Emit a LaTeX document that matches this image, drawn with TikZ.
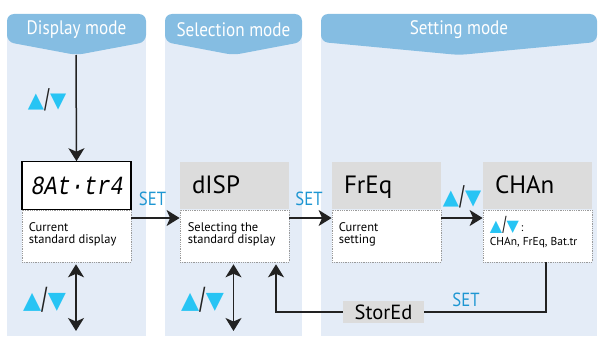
\documentclass[tikz,border=0pt]{standalone}
\usepackage{fontspec}
\setmainfont{PT Sans}
\newfontfamily\narrowf{PT Sans}[FakeStretch=0.88]
\newfontfamily\symf{DejaVu Sans}
\newfontfamily\segf{Liberation Mono}[FakeSlant=0.2]
\usetikzlibrary{arrows.meta,calc}
\definecolor{hdr}{HTML}{85BDE2}
\definecolor{panelc}{HTML}{E4ECF7}
\definecolor{tri}{HTML}{27C4F4}
\definecolor{setc}{HTML}{1E96D2}
\definecolor{gbox}{HTML}{DCDCDC}
\definecolor{dotc}{HTML}{9A9A9A}
\definecolor{linec}{HTML}{222222}
\newcommand\ud[1]{{\fontsize{#1}{#1}\selectfont\symf\textcolor{tri}{▲}\kern0.01em{\color{linec}\raisebox{-0.05em}{\scalebox{0.8}[1.3]{/}}}\kern0.01em\textcolor{tri}{▼}}}
\tikzset{
 tip/.tip={Stealth[length=13pt,width=16pt,inset=3.5pt]},
 arr/.style={draw=linec, line width=1.5pt, -tip},
 darr/.style={draw=linec, line width=1.5pt, tip-tip},
 plain/.style={draw=linec, line width=1.5pt},
 hdrtxt/.style={text=white, font=\narrowf\fontsize{19.5}{19.5}\selectfont, inner sep=0pt},
 segbox/.style={draw=black, line width=1.1pt, fill=white, minimum width=109pt, minimum height=47.5pt, inner sep=0pt},
 graybox/.style={fill=gbox, minimum width=109pt, minimum height=47.5pt, inner xsep=12pt, inner ysep=0pt,
   text width=85pt, align=left, text height=17.5pt, text depth=1pt, font=\fontsize{25}{25}\selectfont},
 lowbox/.style={draw=dotc, densely dotted, line width=0.8pt, fill=white, minimum width=109pt, minimum height=52pt, inner sep=0pt, anchor=north},
 desc/.style={font=\fontsize{12.5}{12.5}\selectfont, align=left, anchor=north west, inner sep=0pt},
 setl/.style={text=setc, font=\narrowf\fontsize{19}{19}\selectfont, inner sep=0pt},
 udl/.style={inner sep=0pt},
}
\begin{document}
\begin{tikzpicture}[x=1pt,y=-1pt]
\useasboundingbox (0,0) rectangle (598,337);
% panels
\fill[panelc] (7,30) rectangle (146,336);
\fill[panelc] (165,30) rectangle (302,336);
\fill[panelc] (321,30) rectangle (597,336);
% headers
\fill[hdr, rounded corners=7pt] (76.5,55) -- (7,42) -- (7,14) -- (146,14) -- (146,42) -- cycle;
\fill[hdr, rounded corners=7pt] (233.5,55) -- (165,42) -- (165,14) -- (302,14) -- (302,42) -- cycle;
\fill[hdr, rounded corners=7pt] (459,55) -- (321,42) -- (321,14) -- (597,14) -- (597,42) -- cycle;
\node[hdrtxt] (h1) at (76.5,30) {Display mode};
\node[hdrtxt] (h2) at (233.5,30) {Selection mode};
\node[hdrtxt] (h3) at (459,30) {Setting mode};
\coordinate (tip1) at (76,55);
% boxes
\node[lowbox] (batL) at (76.5,209.5) {};
\node[segbox] (bat) at (76.5,185.5) {\segf\fontsize{25}{25}\selectfont\scalebox{0.88}[1.05]{8At·tr4}};
\node[lowbox] (dispL) at (234.5,209.5) {};
\node[graybox] (disp) at (234.5,185.5) {dISP};
\node[lowbox] (freqL) at (386.5,209.5) {};
\node[graybox] (freq) at (386.5,185.5) {FrEq};
\node[lowbox] (chanL) at (537.5,209.5) {};
\node[graybox] (chan) at (537.5,185.5) {CHAn};
% descriptions
\node[desc] (t1) at ($(batL.north west)+(7,12.5)$) {Current\\standard display};
\node[desc] (t2) at ($(dispL.north west)+(8,12.5)$) {Selecting the\\standard display};
\node[desc] (t3) at ($(freqL.north west)+(7,12.5)$) {Current\\setting};
\node[desc, font=\fontsize{11.5}{12}\selectfont] (t4) at ($(chanL.north west)+(7,7)$) {\ud{16}\,:\\[2pt]CHAn, FrEq, Bat.tr};
% StorEd
\node[fill=gbox, minimum width=81pt, minimum height=22pt, inner sep=0pt, font=\fontsize{20.5}{20.5}\selectfont] (stored) at (383.5,312) {StorEd};
% connectors
\draw[arr] (tip1) -- (bat.north);
\draw[arr] ($(batL.north east)+(0,8.5)$) -- ($(dispL.north west)+(0,8.5)$);
\draw[arr] ($(dispL.north east)+(0,8.5)$) -- ($(freqL.north west)+(0,8.5)$);
\draw[arr] ($(freqL.north east)+(0,8.5)$) -- ($(chanL.north west)+(0,8.5)$);
\coordinate (b1) at (76,331);
\coordinate (b2) at (233.5,331);
\draw[darr] ($(batL.south)+(-0.5,2)$) -- (b1);
\draw[darr] ($(dispL.south)+(-1,2)$) -- (b2);
\draw[plain] ($(chanL.south)+(8.5,0)$) |- (stored.east);
\draw[arr] (stored.west) -| ($(dispL.south)+(41.5,2)$);
% labels
\node[setl] (s1) at (152.5,199) {SET};
\node[setl] (s2) at (309,199) {SET};
\node[setl] (s3) at (466,300) {SET};
\node[udl] (u1) at (47,100) {\ud{21}};
\node[udl] (u2) at (462,197) {\ud{21}};
\node[udl] (u3) at (44.5,300) {\ud{23.5}};
\node[udl] (u4) at (202.5,300) {\ud{23.5}};
\end{tikzpicture}
\end{document}
